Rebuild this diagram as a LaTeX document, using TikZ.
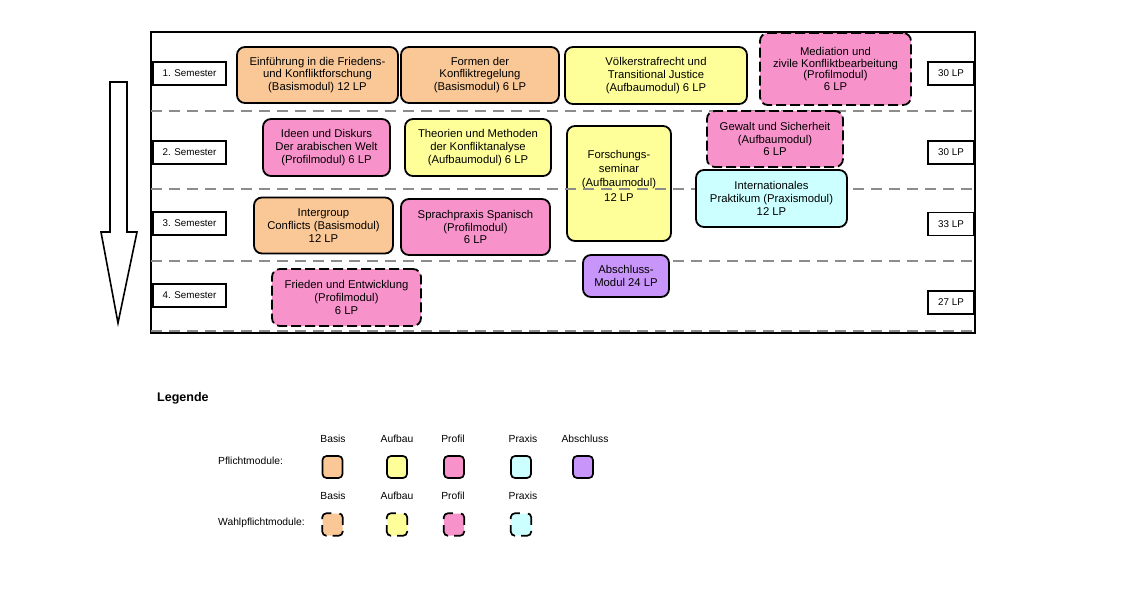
\documentclass[tikz,border=0pt]{standalone}
\usepackage{fontspec}
\setmainfont{Liberation Sans}
\definecolor{cbasis}{RGB}{250,200,150}
\definecolor{caufbau}{RGB}{255,255,153}
\definecolor{cprofil}{RGB}{248,146,203}
\definecolor{cpraxis}{RGB}{204,255,255}
\definecolor{cabschluss}{RGB}{200,150,250}
\definecolor{csep}{RGB}{140,140,140}
\begin{document}
\begin{tikzpicture}[x=1pt,y=-1pt,
  mod/.style={draw=black, line width=1.8pt, rounded corners=8pt, align=center, inner sep=0pt, font=\fontsize{11.3}{12.8}\selectfont},
  opt/.style={mod, dash pattern=on 10pt off 4pt},
  txt/.style={align=center, inner sep=0pt, font=\fontsize{11.3}{14.3}\selectfont},
  sem/.style={draw=black, line width=1.5pt, fill=white, inner sep=0pt, minimum height=23pt, font=\fontsize{9.8}{11}\selectfont},
  sep/.style={draw=csep, line width=1.4pt, dash pattern=on 11pt off 7pt},
  leg/.style={draw=black, line width=1.7pt, rounded corners=4pt, minimum width=20pt, minimum height=22pt, inner sep=0pt},
  legfill/.style={rounded corners=4pt, minimum width=20pt, minimum height=22pt, inner sep=0pt},
  legdash/.style={draw=black, line width=1.7pt, rounded corners=4pt, dash pattern=on 13pt off 6pt, dash phase=16pt},
  lab/.style={inner sep=0pt, font=\fontsize{10.3}{12}\selectfont}]
\useasboundingbox (0,0) rectangle (1125,600);
\fill[white] (0,0) rectangle (1125,600);
% frame
\draw[line width=1.6pt] (151,32) rectangle (975,333);
% arrow
\draw[line width=1.6pt, fill=white] (110,82) -- (127,82) -- (127,232) -- (137,232) -- (118,323) -- (101,232) -- (110,232) -- cycle;
% Forschungsseminar (under separators)
\node[mod, fill=caufbau, minimum width=104pt, minimum height=115pt] (fs) at (619,183.5) {};
\node[txt] (fst) at (619,175.5) {Forschungs-\\seminar\\(Aufbaumodul)\\12 LP};
% separators
\coordinate (s1l) at (151,111); \coordinate (s1r) at (975,111);
\coordinate (s2l) at (151,189); \coordinate (s2r) at (975,189);
\coordinate (s3l) at (151,261); \coordinate (s3r) at (975,261);
\coordinate (s4l) at (151,331); \coordinate (s4r) at (975,331);
\draw[sep] (s1l) -- (s1r);
\draw[sep] (s2l) -- (s2r);
\draw[sep] (s3l) -- (s3r);
\draw[sep] (s4l) -- (s4r);
% semester labels
\node[sem, minimum width=73pt] (sem1) at (189.5,73.5) {1. Semester};
\node[sem, minimum width=73pt] (sem2) at (189.5,152.5) {2. Semester};
\node[sem, minimum width=73pt] (sem3) at (189.5,223.5) {3. Semester};
\node[sem, minimum width=73pt] (sem4) at (189.5,295.5) {4. Semester};
\node[sem, minimum width=46pt] (lp1) at (951,73.5) {30 LP};
\node[sem, minimum width=46pt] (lp2) at (951,152.5) {30 LP};
\node[sem, minimum width=46pt] (lp3) at (951,224) {33 LP};
\node[sem, minimum width=46pt] (lp4) at (951,302.5) {27 LP};
% modules
\node[mod, fill=cbasis, minimum width=161pt, minimum height=56pt] (einf) at (317.5,75) {Einführung in die Friedens-\\und Konfliktforschung\\(Basismodul) 12 LP};
\node[mod, fill=cbasis, minimum width=158pt, minimum height=56pt] (formen) at (480,75) {Formen der\\Konfliktregelung\\(Basismodul) 6 LP};
\node[mod, fill=caufbau, minimum width=182pt, minimum height=57pt] (voelker) at (656,75.5) {Völkerstrafrecht und\\Transitional Justice\\(Aufbaumodul) 6 LP};
\node[opt, fill=cprofil, minimum width=151pt, minimum height=72pt, font=\fontsize{11.3}{11.6}\selectfont] (medi) at (835.5,69) {Mediation und\\zivile Konfliktbearbeitung\\(Profilmodul)\\6 LP};
\node[mod, fill=cprofil, minimum width=127pt, minimum height=57pt] (ideen) at (326.5,147.5) {Ideen und Diskurs\\Der arabischen Welt\\(Profilmodul) 6 LP};
\node[mod, fill=caufbau, minimum width=146pt, minimum height=57pt] (theo) at (478,147.5) {Theorien und Methoden\\der Konfliktanalyse\\(Aufbaumodul) 6 LP};
\node[opt, fill=cprofil, minimum width=136pt, minimum height=56pt] (gewalt) at (775,139) {Gewalt und Sicherheit\\(Aufbaumodul)\\6 LP};
\node[mod, fill=cpraxis, minimum width=151pt, minimum height=57pt] (prak) at (771.5,198.5) {Internationales\\Praktikum (Praxismodul)\\12 LP};
\node[mod, fill=cbasis, minimum width=139pt, minimum height=56pt] (inter) at (323.5,225.5) {Intergroup\\Conflicts (Basismodul)\\12 LP};
\node[mod, fill=cprofil, minimum width=149pt, minimum height=56pt] (sprach) at (475.5,227) {Sprachpraxis Spanisch\\(Profilmodul)\\6 LP};
\node[mod, fill=cabschluss, minimum width=86pt, minimum height=42pt] (absch) at (626,276) {Abschluss-\\Modul 24 LP};
\node[opt, fill=cprofil, minimum width=149pt, minimum height=57pt] (frieden) at (346.5,297.5) {Frieden und Entwicklung\\(Profilmodul)\\6 LP};
% legend
\node[anchor=west, inner sep=0pt, font=\fontsize{12.5}{14}\selectfont\bfseries] (legende) at (157,398) {Legende};
\node[lab, anchor=west] (pflicht) at (218,461) {Pflichtmodule:};
\node[lab, anchor=west] (wahl) at (218,523) {Wahlpflichtmodule:};
\node[lab] (h1) at (333,439) {Basis};
\node[lab] (h2) at (397,439) {Aufbau};
\node[lab] (h3) at (453,439) {Profil};
\node[lab] (h4) at (523,439) {Praxis};
\node[lab] (h5) at (585,439) {Abschluss};
\node[leg, fill=cbasis] (p1) at (332.5,467) {};
\node[leg, fill=caufbau] (p2) at (397,467) {};
\node[leg, fill=cprofil] (p3) at (454,467) {};
\node[leg, fill=cpraxis] (p4) at (521,467) {};
\node[leg, fill=cabschluss] (p5) at (583,467) {};
\node[lab] (g1) at (333,496) {Basis};
\node[lab] (g2) at (397,496) {Aufbau};
\node[lab] (g3) at (453,496) {Profil};
\node[lab] (g4) at (523,496) {Praxis};
\node[legfill, fill=cbasis] (w1) at (332.5,524.5) {};
\node[legfill, fill=caufbau] (w2) at (397,524.5) {};
\node[legfill, fill=cprofil] (w3) at (454,524.5) {};
\node[legfill, fill=cpraxis] (w4) at (521,524.5) {};
\foreach \w in {w1,w2,w3,w4}{
  \draw[legdash] (\w.north) -- (\w.north east) -- (\w.south east) -- (\w.south west) -- (\w.north west) -- cycle;
}
\end{tikzpicture}
\end{document}
